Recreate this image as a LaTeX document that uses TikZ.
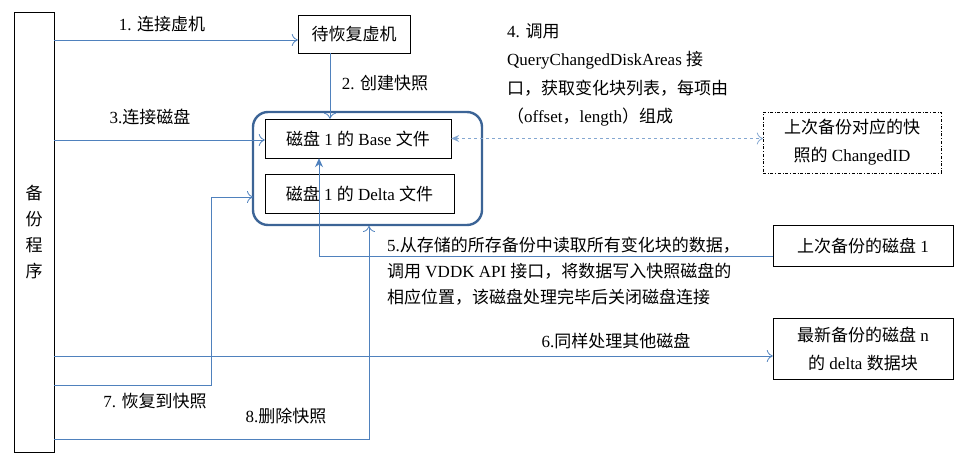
\documentclass[tikz,border=0pt]{standalone}
\usepackage{fontspec}
\setmainfont{Liberation Serif}
\newfontfamily\cjk{Noto Sans CJK SC}
\newcommand\C[1]{{\cjk #1}}
\usetikzlibrary{arrows.meta}
\definecolor{ln}{HTML}{4F81BD}
\definecolor{rb}{HTML}{3C6496}
\tikzset{
 every node/.style={font=\fontsize{17}{26}\selectfont},
 box/.style={draw,thin,inner sep=0pt},
 lbl/.style={anchor=center,inner sep=0pt},
 conn/.style={draw=ln,line width=0.8pt,-{To[length=6pt,width=12pt]}},
 fconn/.style={draw=ln,line width=0.8pt,-{Stealth[length=9pt,width=8pt]}},
}
\begin{document}
\begin{tikzpicture}[x=1pt,y=-1pt]
\useasboundingbox (0,0) rectangle (963,460);
\node[box,minimum width=40,minimum height=440,align=center,font=\fontsize{17}{26}\selectfont] (prog) at (34,232) {\C{备}\\\C{份}\\\C{程}\\\C{序}};
\node[box,minimum width=112,minimum height=38] (vm) at (354,34) {\C{待恢复虚机}};
\draw[rb,line width=2.4pt,rounded corners=15] (253,112) rectangle (482,225);
\coordinate (big7) at (253,197);
\coordinate (big8) at (369,226);
\node[box,minimum width=186,minimum height=39] (base) at (358,138.5) {\C{磁盘} 1 \C{的} Base \C{文件}};
\node[box,minimum width=189,minimum height=39] (delta) at (359.5,193.5) {\C{磁盘} 1 \C{的} Delta \C{文件}};
\node[box,dash dot,minimum width=178,minimum height=61,align=center,font=\fontsize{17}{28}\selectfont] (cid) at (852,142.5) {\C{上次备份对应的快}\\\C{照的} ChangedID};
\node[box,minimum width=180,minimum height=41] (last) at (863,245.5) {\C{上次备份的磁盘} 1};
\node[box,minimum width=180,minimum height=61,align=center,font=\fontsize{17}{28}\selectfont] (newn) at (863,348.5) {\C{最新备份的磁盘} n\\\C{的} delta \C{数据块}};
% 1
\draw[conn] (prog.east |- 0,40) -- (vm.west |- 0,40);
\node[lbl] at (162,24) {1. \C{连接虚机}};
% 2
\draw[conn] (vm.south -| 330,0) -- (base.north -| 330,0);
\node[lbl] at (385,83) {2. \C{创建快照}};
% 3
\draw[conn] (prog.east |- 0,140) -- (base.west |- 0,140);
\node[lbl] at (150,117) {3.\C{连接磁盘}};
% 4
\draw[draw=ln!70,line width=0.8pt,dashed,{Stealth[length=8pt,width=7pt]}-{To[length=6pt,width=12pt]}] (base.east) -- (cid.west |- base.east);
\node[anchor=west,align=left,inner sep=0pt,font=\fontsize{17}{28.5}\selectfont] at (507,75) {4. \C{调用}\\QueryChangedDiskAreas \C{接}\\\C{口，获取变化块列表，每项由}\\\C{（}offset\C{，}length\C{）组成}};
% 5
\draw[fconn] (last.west |- 0,256) -| (base.south -| 319,0);
\node[anchor=west,align=left,inner sep=0pt,font=\fontsize{17}{26}\selectfont] at (387,271) {5.\C{从存储的所存备份中读取所有变化块的数据，}\\\C{调用} VDDK API \C{接口，将数据写入快照磁盘的}\\\C{相应位置，该磁盘处理完毕后关闭磁盘连接}};
% 6
\draw[conn] (prog.east |- 0,356) -- (newn.west |- 0,356);
\node[lbl] at (616,341) {6.\C{同样处理其他磁盘}};
% 7
\draw[conn] (prog.east |- 0,385) -| (211,197) -- (big7);
\node[lbl] at (155,401) {7. \C{恢复到快照}};
% 8
\draw[conn] (prog.east |- 0,439) -| (big8);
\node[lbl] at (286,416) {8.\C{删除快照}};
\end{tikzpicture}
\end{document}
